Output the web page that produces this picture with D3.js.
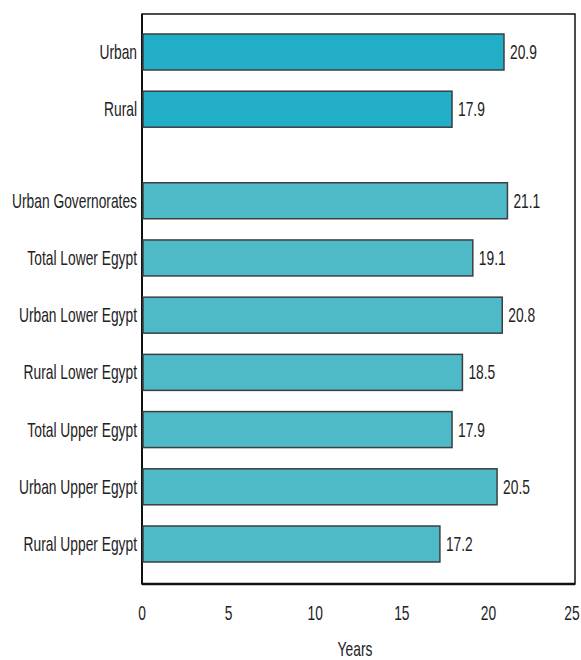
<!DOCTYPE html>
<html><head><meta charset="utf-8">
<script src="https://cdn.jsdelivr.net/npm/d3@7"></script>
<style>
html,body{margin:0;padding:0;background:#fff;}
text{font-family:"Liberation Sans Narrow","Liberation Sans",Arial,sans-serif;fill:#222;}
</style></head>
<body><svg id="c" width="581" height="660"></svg>
<script>
const categories = ["Urban","Rural","Urban Governorates","Total Lower Egypt","Urban Lower Egypt","Rural Lower Egypt","Total Upper Egypt","Urban Upper Egypt","Rural Upper Egypt"];
const values = [20.9,17.9,21.1,19.1,20.8,18.5,17.9,20.5,17.2];
const groups = [0,0,1,1,1,1,1,1,1];
const xTicks = [0,5,10,15,20,25];
const xTitle = "Years";

(function(){
const svg = d3.select("#c");
const pL = 142, pR = 575, pT = 14, pB = 584;
const sx = 0.69, fs = 20;
const x = d3.scaleLinear().domain([0,25]).range([pL,pR]);
const slot = (i) => i + groups[i]*0.6;
const y = d3.scaleLinear().domain([0, slot(categories.length-1)]).range([52,544]);
const barH = 36;
const colors = ["#22aec7","#4fbac7"];

svg.append("rect").attr("x",pL).attr("y",pT).attr("width",pR-pL).attr("height",pB-pT)
  .attr("fill","none").attr("stroke","#111").attr("stroke-width",1.5);
svg.append("line").attr("x1",pL).attr("x2",pL).attr("y1",pT).attr("y2",pB).attr("stroke","#111").attr("stroke-width",2);
svg.append("line").attr("x1",pL).attr("x2",pR).attr("y1",pB).attr("y2",pB).attr("stroke","#111").attr("stroke-width",2.5);

svg.selectAll("rect.bar").data(values).join("rect").attr("class","bar")
  .attr("x",x(0)+1).attr("y",(d,i)=>y(slot(i))-barH/2)
  .attr("width",d=>x(d)-x(0)-1).attr("height",barH)
  .attr("fill",(d,i)=>colors[groups[i]]).attr("stroke","#3a3f42").attr("stroke-width",1.5);

function condText(xp, yp, str, anchor){
  svg.append("g").attr("transform",`translate(${xp},${yp}) scale(${sx},1)`)
    .append("text").attr("x",0).attr("y",0).attr("text-anchor",anchor)
    .attr("font-size",fs).text(str);
}
categories.forEach((c,i)=>condText(137, y(slot(i))+7, c, "end"));
values.forEach((v,i)=>condText(x(v)+6, y(slot(i))+7, d3.format(".1f")(v), "start"));
xTicks.forEach(t=>condText(x(t) - (t===25?3:0), 620, String(t), "middle"));
condText(355, 656, xTitle, "middle");
})();
</script></body></html>
